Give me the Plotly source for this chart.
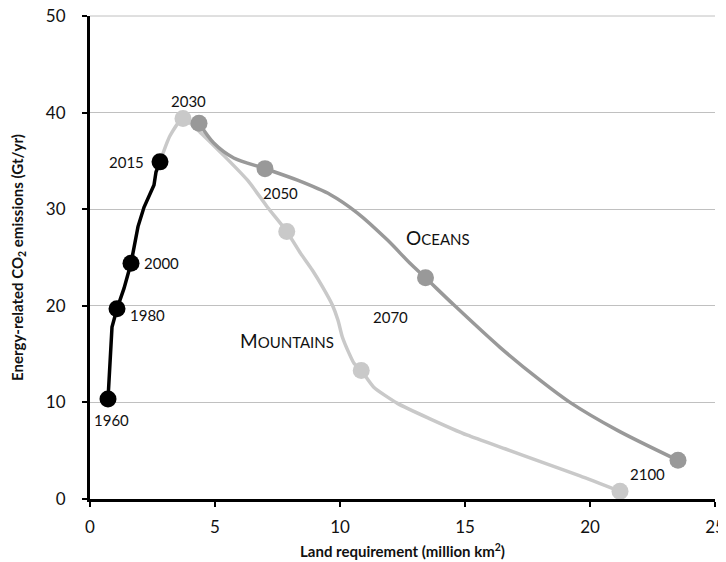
import plotly.graph_objects as go

# Historical (black) path, 1960-2015
hist_x = [0.72, 0.88, 1.08, 1.36, 1.64, 1.92, 2.16, 2.56, 2.64, 2.8]
hist_y = [10.35, 17.8, 19.7, 21.8, 24.4, 28.2, 30.2, 32.5, 33.85, 34.9]
# Marked years on the historical path
hist_years = ["1960", "1980", "2000", "2015"]
hist_mx = [0.72, 1.08, 1.64, 2.8]
hist_my = [10.35, 19.7, 24.4, 34.9]

# Mountains scenario path
mount_x = [2.8, 3.2, 3.72, 4.43, 6.3, 7.1, 7.87, 8.43, 8.89, 9.29, 9.69, 9.92, 10.09,
           10.36, 10.56, 10.85, 11.34, 12.3, 13.6, 15.1, 16.6, 18.1, 19.6, 21.2]
mount_y = [34.9, 37.6, 39.4, 37.9, 33.0, 30.2, 27.7, 25.4, 23.7, 22.0, 20.1, 18.5, 16.8,
           15.1, 14.05, 13.3, 11.6, 9.9, 8.3, 6.6, 5.2, 3.8, 2.4, 0.8]
# Oceans scenario path
ocean_x = [4.36, 4.95, 5.75, 7.0, 8.3, 9.62, 10.7, 11.9, 12.8, 13.42, 14.55, 16.4,
           18.0, 19.2, 21.1, 23.52]
ocean_y = [38.9, 36.85, 35.3, 34.2, 33.0, 31.5, 29.6, 26.8, 24.4, 22.9, 20.1, 15.7,
           12.3, 10.0, 7.1, 4.0]

# Marked scenario years: 2030, 2050, 2070, 2100
scen_years = ["2030", "2050", "2070", "2100"]
mount_mx = [3.72, 7.87, 10.85, 21.2]
mount_my = [39.4, 27.7, 13.3, 0.8]
ocean_mx = [4.36, 7.0, 13.42, 23.52]
ocean_my = [38.9, 34.2, 22.9, 4.0]

# Year labels and anchor positions (data coords)
label_text = ["2030", "2015", "2000", "1980", "1960", "2050", "2070", "2100"]
label_x = [3.93, 1.46, 2.86, 2.3, 0.86, 7.63, 12.02, 22.28]
label_y = [41.2, 34.9, 24.4, 19.05, 8.2, 31.7, 18.8, 2.6]

FONT = "Lato"
MOUNT_C = "#c9c9c9"
OCEAN_C = "#999999"
GRID_C = "#c0c0c0"
MS = 17

fig = go.Figure()
fig.add_trace(go.Scatter(x=mount_x, y=mount_y, mode="lines",
                         line=dict(color=MOUNT_C, width=3.5, shape="spline", smoothing=0.6),
                         hoverinfo="skip", showlegend=False))
fig.add_trace(go.Scatter(x=mount_mx, y=mount_my, mode="markers", text=scen_years,
                         marker=dict(size=MS, color=MOUNT_C),
                         hoverinfo="skip", showlegend=False))
fig.add_trace(go.Scatter(x=ocean_x, y=ocean_y, mode="lines",
                         line=dict(color=OCEAN_C, width=3.5, shape="spline", smoothing=0.8),
                         hoverinfo="skip", showlegend=False))
fig.add_trace(go.Scatter(x=ocean_mx, y=ocean_my, mode="markers", text=scen_years,
                         marker=dict(size=MS, color=OCEAN_C),
                         hoverinfo="skip", showlegend=False))
fig.add_trace(go.Scatter(x=hist_x, y=hist_y, mode="lines",
                         line=dict(color="black", width=3.5),
                         hoverinfo="skip", showlegend=False))
fig.add_trace(go.Scatter(x=hist_mx, y=hist_my, mode="markers", text=hist_years,
                         marker=dict(size=MS, color="black"),
                         hoverinfo="skip", showlegend=False))

for t, x, y in zip(label_text, label_x, label_y):
    fig.add_annotation(x=x, y=y, text=t, showarrow=False,
                       font=dict(family=FONT, size=15, color="#111"))

fig.add_annotation(x=13.93, y=27.1, showarrow=False,
                   text="O<span style='font-size:15px'>CEANS</span>",
                   font=dict(family=FONT, size=19, color="#111"))
fig.add_annotation(x=7.87, y=16.46, showarrow=False,
                   text="M<span style='font-size:15px'>OUNTAINS</span>",
                   font=dict(family=FONT, size=19, color="#111"))

# top gridline along the plot's upper edge (Plotly drops the gridline at the range edge)
fig.add_shape(type="line", xref="paper", yref="paper", x0=0, x1=1, y0=1, y1=1,
              line=dict(color=GRID_C, width=1), layer="below")

# The page body adds an 8px offset, so the figure is sized to fit inside it.
fig.update_layout(
    width=718, height=554,
    margin=dict(l=82, r=11, t=8, b=63),
    paper_bgcolor="white", plot_bgcolor="white",
    font=dict(family=FONT, color="#111"),
)
fig.update_xaxes(range=[0, 25], tickvals=[0, 5, 10, 15, 20, 25],
                 showgrid=False, zeroline=False, automargin=False,
                 showline=True, linecolor="black", linewidth=3,
                 ticks="outside", ticklen=5, tickwidth=2, tickcolor="black",
                 ticklabelstandoff=6, ticklabeloverflow="allow",
                 tickfont=dict(family=FONT, size=17, color="#111"),
                 title=dict(text="<b>Land requirement (million km<sup>2</sup>)</b>",
                            font=dict(family=FONT, size=15, color="#111"), standoff=11))
fig.update_yaxes(range=[0, 50], tickvals=[0, 10, 20, 30, 40, 50],
                 showgrid=True, gridcolor=GRID_C, gridwidth=1, zeroline=False,
                 automargin=False,
                 showline=True, linecolor="black", linewidth=3,
                 ticks="outside", ticklen=5, tickwidth=2, tickcolor="black",
                 ticklabelstandoff=13, ticklabeloverflow="allow",
                 tickfont=dict(family=FONT, size=17, color="#111"),
                 title=dict(text="<b>Energy-related CO<sub>2</sub> emissions (Gt/yr)</b>",
                            font=dict(family=FONT, size=15, color="#111"), standoff=27))

fig.write_html("out.html")
